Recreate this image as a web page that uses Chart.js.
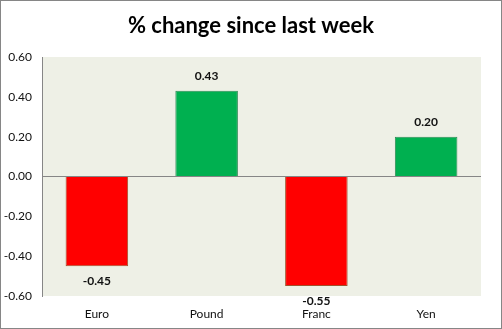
<!DOCTYPE html>
<html>
<head>
<meta charset="utf-8">
<script src="https://cdn.jsdelivr.net/npm/chart.js@4"></script>
<style>
  body { margin: 0; background: #fff; }
  #wrap { width: 502px; height: 329px; }
</style>
</head>
<body>
<div id="wrap"><canvas id="chart" width="502" height="329"></canvas></div>
<script>
const categories = ['Euro', 'Pound', 'Franc', 'Yen'];
const changes = [-0.45, 0.43, -0.55, 0.20];
const yTicks = [-0.6, -0.4, -0.2, 0, 0.2, 0.4, 0.6];
const titleText = '% change since last week';

const fontFamily = 'Lato, "Open Sans", sans-serif';

// frame, title, plot background and value labels
const decor = {
  id: 'decor',
  beforeDraw(chart) {
    const ctx = chart.ctx;
    const a = chart.chartArea;
    ctx.save();
    ctx.fillStyle = '#fff';
    ctx.fillRect(0, 0, chart.width, chart.height);
    ctx.fillStyle = '#eef0e6';
    ctx.fillRect(a.left, a.top, a.right - a.left, a.bottom - a.top);
    ctx.strokeStyle = '#868686';
    ctx.lineWidth = 1;
    ctx.strokeRect(0.5, 0.5, chart.width - 1, chart.height - 1);
    ctx.font = 'bold 22px ' + fontFamily;
    ctx.fillStyle = '#000';
    ctx.textAlign = 'center';
    ctx.textBaseline = 'middle';
    ctx.fillText(titleText, chart.width / 2, 26);
    ctx.restore();
  },
  afterDatasetsDraw(chart) {
    const ctx = chart.ctx;
    const meta = chart.getDatasetMeta(0);
    ctx.save();
    ctx.font = 'bold 12px ' + fontFamily;
    ctx.fillStyle = '#111';
    ctx.textAlign = 'center';
    ctx.textBaseline = 'middle';
    meta.data.forEach((bar, i) => {
      const v = changes[i];
      const y = v >= 0 ? bar.y - 15 : bar.y + 15;
      ctx.fillText(v.toFixed(2), bar.x, y);
    });
    ctx.restore();
  }
};

new Chart(document.getElementById('chart'), {
  type: 'bar',
  data: {
    labels: categories,
    datasets: [{
      data: changes,
      backgroundColor: changes.map(v => v < 0 ? '#ff0000' : '#00b050'),
      borderColor: changes.map(v => v < 0 ? '#a0522d' : '#2e8b57'),
      borderWidth: 1,
      barPercentage: 0.57,
      categoryPercentage: 1
    }]
  },
  options: {
    responsive: false,
    animation: false,
    layout: { padding: { left: 0, right: 21, top: 57, bottom: 0 } },
    plugins: {
      legend: { display: false },
      tooltip: { enabled: false },
      title: { display: false }
    },
    scales: {
      x: {
        grid: { display: false, drawTicks: false },
        border: { display: false },
        ticks: { color: '#111', padding: 11, font: { family: fontFamily, size: 12 } },
        afterFit(scale) { scale.height = 33; }
      },
      y: {
        min: -0.6,
        max: 0.6,
        afterBuildTicks(scale) { scale.ticks = yTicks.map(v => ({ value: v })); },
        ticks: {
          color: '#111',
          padding: 10,
          font: { family: fontFamily, size: 12 },
          callback: v => v.toFixed(2)
        },
        grid: {
          drawTicks: false,
          color: ctx => ctx.tick && Math.abs(ctx.tick.value) < 1e-9 ? '#868686' : 'rgba(0,0,0,0)'
        },
        border: { display: true, color: '#868686' },
        afterFit(scale) { scale.width = 42; }
      }
    }
  },
  plugins: [decor]
});
</script>
</body>
</html>
